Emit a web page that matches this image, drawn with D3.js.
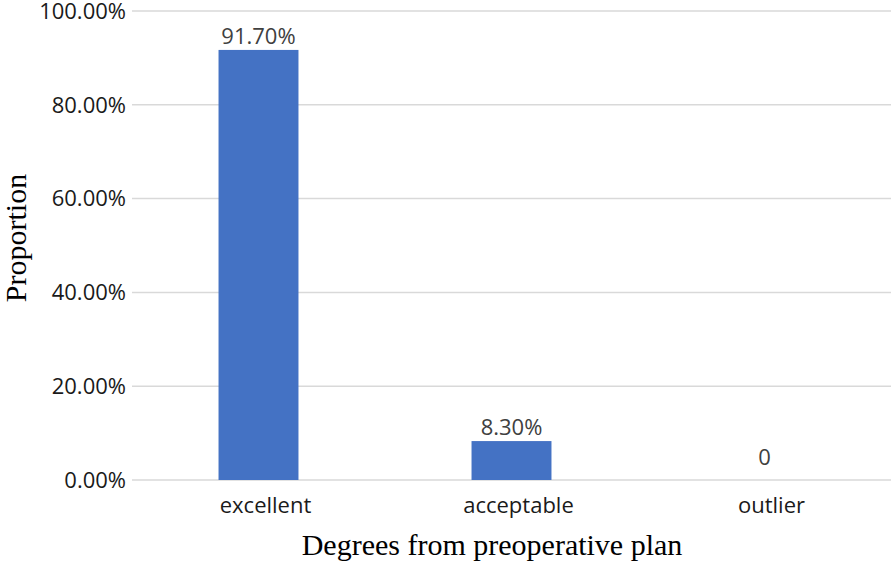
<!DOCTYPE html>
<html>
  <head>
    <meta charset="utf-8">
    <script src="https://d3js.org/d3.v7.min.js"></script>
    <title>Degrees from preoperative plan</title>
    <style>
      body { margin: 0; background: #fff; }
    </style>
  </head>
  <body>
    <div id="chart"></div>
  </body>
  <script>

    // DATA
    const categories = ['excellent', 'acceptable', 'outlier'];
    const values = [0.917, 0.083, 0];
    const valueLabels = ['91.70%', '8.30%', '0'];
    const yTicks = [0, 0.2, 0.4, 0.6, 0.8, 1.0];

    // CONSTANTS
    const W = 896, H = 565;
    const margin = {top: 11, left: 132, bottom: 85, right: 5};

    var svg = d3.select('div#chart')
	.append('svg')
	.attr('width', W)
	.attr('height', H);

    var xscale = d3.scaleBand()
	.domain(categories)
	.range([margin.left, W - margin.right])
	.padding(0);

    var yscale = d3.scaleLinear()
	.domain([0, 1])
	.range([H - margin.bottom, margin.top]);

    var barw = xscale.bandwidth() * 0.316;
    var fmt = d3.format('.2%');

    // gridlines
    svg.append('g')
	.selectAll('line')
	.data(yTicks)
	.enter()
	.append('line')
	.attr('x1', margin.left)
	.attr('x2', W - margin.right)
	.attr('y1', d => yscale(d))
	.attr('y2', d => yscale(d))
	.attr('stroke', '#d9d9d9')
	.attr('stroke-width', 1.5);

    // y tick labels
    svg.append('g')
	.selectAll('text')
	.data(yTicks)
	.enter()
	.append('text')
	.attr('x', margin.left - 6)
	.attr('y', d => yscale(d))
	.attr('dy', '0.35em')
	.attr('text-anchor', 'end')
	.attr('font-family', 'Open Sans')
	.attr('font-size', 22)
	.attr('fill', '#1a1a1a')
	.text(d => fmt(d));

    // bars
    svg.append('g')
	.selectAll('rect')
	.data(values)
	.enter()
	.append('rect')
	.attr('x', (d, i) => xscale(categories[i]) + (xscale.bandwidth() - barw) / 2)
	.attr('y', d => yscale(d))
	.attr('width', barw)
	.attr('height', d => yscale(0) - yscale(d))
	.attr('fill', '#4472c4');

    // data labels (a zero value sits a little higher, as in the source)
    svg.append('g')
	.selectAll('text')
	.data(values)
	.enter()
	.append('text')
	.attr('x', (d, i) => xscale(categories[i]) + xscale.bandwidth() / 2)
	.attr('y', d => yscale(d) - (d === 0 ? 15 : 6))
	.attr('text-anchor', 'middle')
	.attr('font-family', 'Open Sans')
	.attr('font-size', 22)
	.attr('fill', '#404040')
	.text((d, i) => valueLabels[i]);

    // category labels
    svg.append('g')
	.selectAll('text')
	.data(categories)
	.enter()
	.append('text')
	.attr('x', d => xscale(d) + xscale.bandwidth() / 2 + 7)
	.attr('y', yscale(0) + 33)
	.attr('text-anchor', 'middle')
	.attr('font-family', 'Open Sans')
	.attr('font-size', 22)
	.attr('fill', '#1a1a1a')
	.text(d => d);

    // axis titles
    svg.append('text')
	.attr('x', 492)
	.attr('y', 555)
	.attr('text-anchor', 'middle')
	.attr('font-family', 'Liberation Serif')
	.attr('font-size', 30)
	.attr('fill', '#000')
	.text('Degrees from preoperative plan');

    svg.append('text')
	.attr('transform', 'translate(26,238) rotate(-90)')
	.attr('text-anchor', 'middle')
	.attr('font-family', 'Liberation Serif')
	.attr('font-size', 30)
	.attr('fill', '#000')
	.text('Proportion');

  </script>
</html>
